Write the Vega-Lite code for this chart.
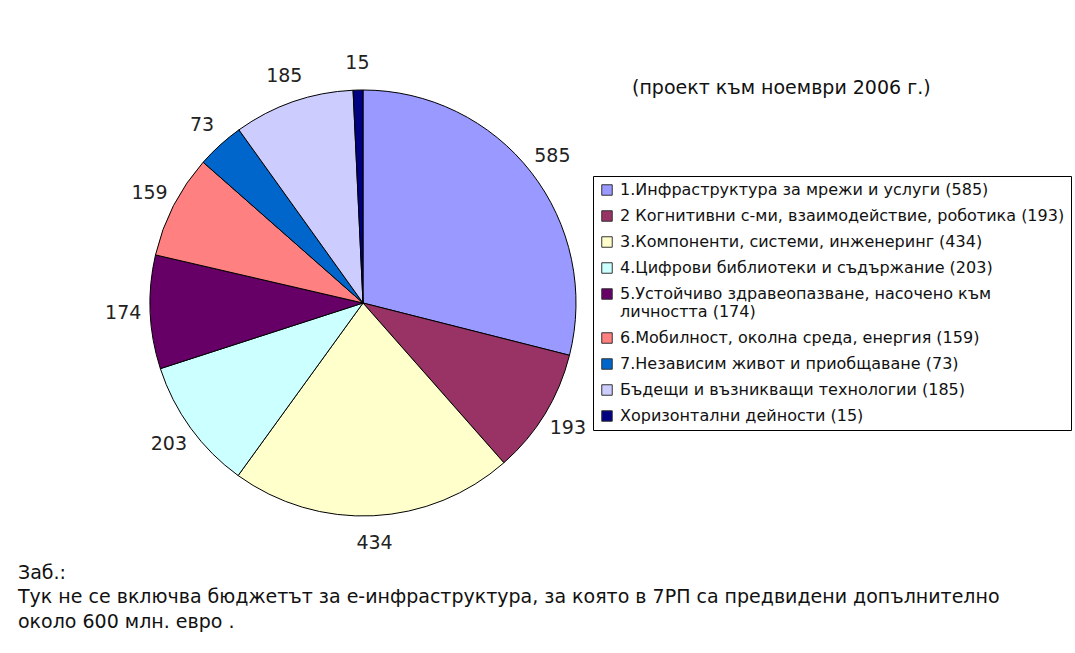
{
  "$schema": "https://vega.github.io/schema/vega-lite/v6.json",
  "padding": {"left": 18, "top": 54, "right": 0, "bottom": 0},
  "background": "white",
  "config": {
    "font": "DejaVu Sans",
    "view": {"stroke": null},
    "concat": {"spacing": 0}
  },
  "title": {
    "text": ["Заб.:", "Тук не се включва бюджетът за е-инфраструктура, за която в 7РП са предвидени допълнително", "около 600 млн. евро ."],
    "orient": "bottom",
    "anchor": "start",
    "frame": "group",
    "dx": -130,
    "offset": 11,
    "fontSize": 19,
    "fontWeight": "normal",
    "lineHeight": 24.5,
    "color": "#111111",
    "font": "DejaVu Sans"
  },
  "datasets": {
    "budget": [
      {"order": 1, "category": "1.Инфраструктура за мрежи и услуги (585)", "value": 585},
      {"order": 2, "category": "2 Когнитивни с-ми, взаимодействие, роботика (193)", "value": 193},
      {"order": 3, "category": "3.Компоненти, системи, инженеринг (434)", "value": 434},
      {"order": 4, "category": "4.Цифрови библиотеки и съдържание (203)", "value": 203},
      {"order": 5, "category": "5.Устойчиво здравеопазване, насочено към личността (174)", "value": 174},
      {"order": 6, "category": "6.Мобилност, околна среда, енергия (159)", "value": 159},
      {"order": 7, "category": "7.Независим живот и приобщаване (73)", "value": 73},
      {"order": 8, "category": "Бъдещи и възникващи технологии (185)", "value": 185},
      {"order": 9, "category": "Хоризонтални дейности (15)", "value": 15}
    ]
  },
  "vconcat": [
    {
      "width": 430,
      "height": 430,
      "title": {
        "text": "(проект към ноември 2006 г.)",
        "anchor": "start",
        "frame": "group",
        "dx": 484,
        "dy": 48,
        "fontSize": 19,
        "fontWeight": "normal",
        "color": "#111111",
        "font": "DejaVu Sans"
      },
      "data": {"name": "budget"},
      "encoding": {
        "theta": {"field": "value", "type": "quantitative", "stack": true},
        "order": {"field": "order", "type": "quantitative"}
      },
      "layer": [
        {
          "mark": {"type": "arc", "radius": 213, "stroke": "#000000", "strokeWidth": 1},
          "encoding": {
            "color": {
              "field": "category",
              "type": "nominal",
              "sort": {"field": "order"},
              "scale": {
                "domain": [
                  "1.Инфраструктура за мрежи и услуги (585)",
                  "2 Когнитивни с-ми, взаимодействие, роботика (193)",
                  "3.Компоненти, системи, инженеринг (434)",
                  "4.Цифрови библиотеки и съдържание (203)",
                  "5.Устойчиво здравеопазване, насочено към личността (174)",
                  "6.Мобилност, околна среда, енергия (159)",
                  "7.Независим живот и приобщаване (73)",
                  "Бъдещи и възникващи технологии (185)",
                  "Хоризонтални дейности (15)"
                ],
                "range": ["#9999FF", "#993366", "#FFFFCC", "#CCFFFF", "#660066", "#FF8080", "#0066CC", "#CCCCFF", "#000080"]
              },
              "legend": {
                "title": null,
                "orient": "none",
                "legendX": 445,
                "legendY": 88,
                "strokeColor": "#000000",
                "padding": 6,
                "symbolType": "square",
                "symbolSize": 110,
                "symbolStrokeColor": "#333333",
                "symbolStrokeWidth": 1,
                "labelFontSize": 16,
                "labelFont": "DejaVu Sans",
                "labelColor": "#111111",
                "labelLimit": 480,
                "rowPadding": 10,
                "labelOffset": 5,
                "labelExpr": "indexof(datum.label, '5.Устойчиво') == 0 ? ['5.Устойчиво здравеопазване, насочено към', 'личността (174)'] : datum.label"
              }
            }
          }
        },
        {
          "mark": {"type": "text", "radius": 240, "fontSize": 19, "color": "#222222", "font": "DejaVu Sans"},
          "encoding": {
            "text": {"field": "value", "type": "quantitative"}
          }
        }
      ]
    }
  ]
}
